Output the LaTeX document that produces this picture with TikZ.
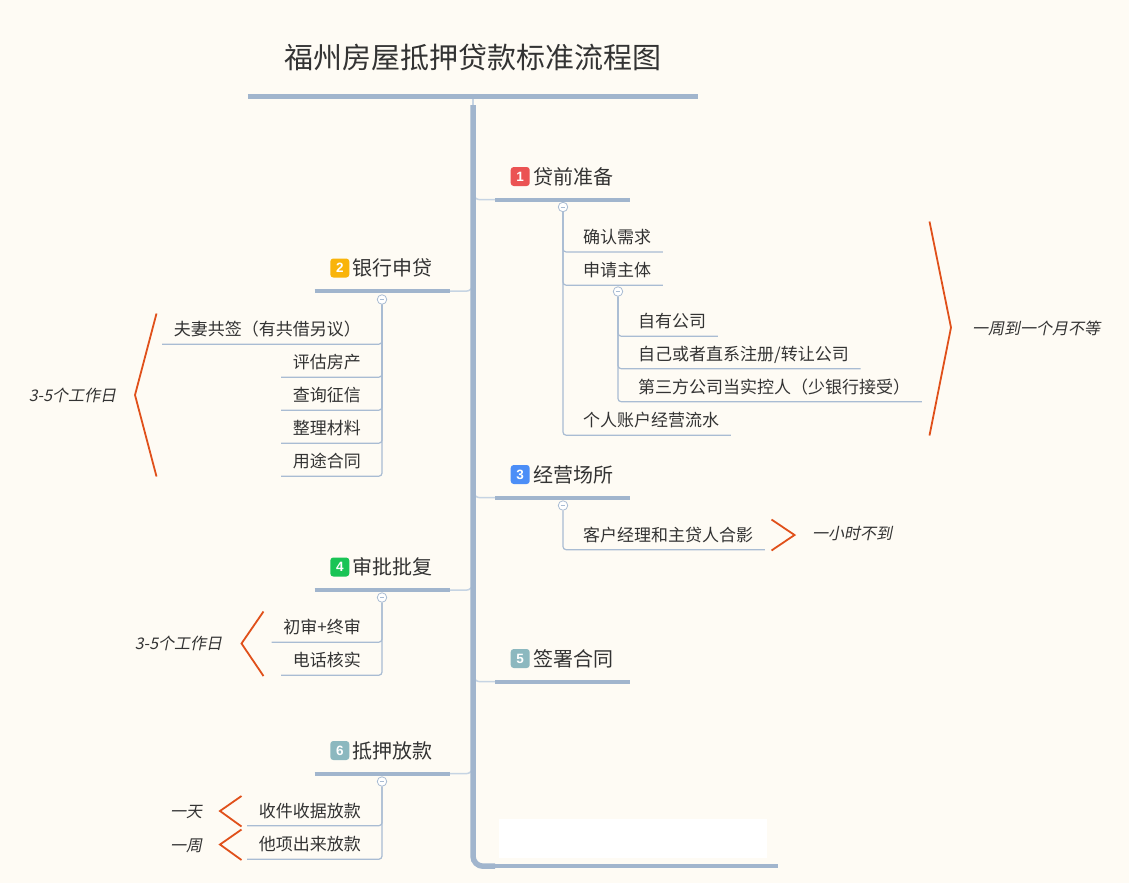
\documentclass[tikz,border=0pt]{standalone}
\usepackage{fontspec}
\setmainfont{Noto Sans CJK SC}
\newfontfamily\slantfont{Noto Sans CJK SC}[FakeSlant=0.2]
\newfontfamily\badgefont{Liberation Sans}
\usepackage{tikz}
\usetikzlibrary{positioning}
\definecolor{paper}{HTML}{FEFBF4}
\definecolor{ink}{HTML}{333333}
\definecolor{branch}{HTML}{A1B5CD}
\definecolor{twig}{HTML}{A9BCD3}
\definecolor{joint}{HTML}{C6D4E3}
\definecolor{summ}{HTML}{E0501A}
\definecolor{tagred}{HTML}{EB5353}
\definecolor{tagyellow}{HTML}{F9B40A}
\definecolor{tagblue}{HTML}{4C8EF7}
\definecolor{taggreen}{HTML}{19C455}
\definecolor{taggrey}{HTML}{8CB8BF}
\tikzset{
    heading/.style={text=ink, font=\fontsize{29}{32}\selectfont, text height=29pt, text depth=7pt, inner ysep=21pt, minimum width=450pt},
    topic/.style={text=ink, font=\fontsize{20}{24}\selectfont, text height=20.2pt, text depth=5pt, inner ysep=10.4pt, inner xsep=17pt},
    item/.style={text=ink, font=\fontsize{17}{20}\selectfont, text height=16.9pt, text depth=4pt, inner ysep=4pt, inner xsep=11.5pt},
    note/.style={text=ink, font=\slantfont\fontsize{16}{19}\selectfont, text height=15.2pt, text depth=3pt, inner sep=0pt},
    badge/.style={rounded corners=3pt, minimum size=19pt, inner sep=0pt, text=white, font=\badgefont\bfseries\fontsize{13.5}{13.5}\selectfont}, % numbered tags
    toggle/.style={circle, draw=twig, fill=white, line width=0.8pt, minimum size=9.5pt, inner sep=0pt,
        path picture={\draw[twig, line width=0.8pt] ([xshift=-2.4pt]path picture bounding box.center) -- ([xshift=2.4pt]path picture bounding box.center);}},
    uline/.style={draw=branch, line width=4pt},
    link/.style={draw=joint, line width=1.5pt, rounded corners=7pt}, % trunk to topic
    sub/.style={draw=twig, line width=1.2pt, rounded corners=3pt},
    trunk/.style={draw=branch, line width=5.5pt, rounded corners=10pt},
    sumline/.style={draw=summ, line width=1.8pt, line join=miter} % summary brackets
}

\begin{document}
\begin{tikzpicture}[x=1pt, y=-1pt]
    \fill[paper] (0,0) rectangle (1129,883);
    \useasboundingbox (0,0) rectangle (1129,883);

    \node[heading] (root) at (473,57.5) {福州房屋抵押贷款标准流程图};
    \coordinate (top) at (473,105);

    % topics
    \node[topic, anchor=west] (t1) at (495,176.5) {\hspace*{21pt}贷前准备};
    \node[topic, anchor=east] (t2) at (450,268) {\hspace*{21pt}银行申贷};
    \node[topic, anchor=west] (t3) at (495,474.5) {\hspace*{21pt}经营场所};
    \node[topic, anchor=east] (t4) at (450,567) {\hspace*{21pt}审批批复};
    \node[topic, anchor=west] (t5) at (495,658.5) {\hspace*{21pt}签署合同};
    \node[topic, anchor=east] (t6) at (450,750.5) {\hspace*{21pt}抵押放款};
    \fill[white] (499,819) rectangle (767,857.5);
    \node[topic, anchor=west, minimum width=283pt] (t7) at (495,843) {};

    \node[badge, fill=tagred, right=15.5pt of t1.west] (n1) {1};
    \node[badge, fill=tagyellow, right=15.5pt of t2.west] (n2) {2};
    \node[badge, fill=tagblue, right=15.5pt of t3.west] (n3) {3};
    \node[badge, fill=taggreen, right=15.5pt of t4.west] (n4) {4};
    \node[badge, fill=taggrey, right=15.5pt of t5.west] (n5) {5};
    \node[badge, fill=taggrey, right=15.5pt of t6.west] (n6) {6};

    % items
    \node[toggle] (m1) at (563,207) {};
    \node[item, anchor=west] (a1) at (571.5,237.3) {确认需求};
    \node[item, anchor=west] (a2) at (571.5,270.5) {申请主体};
    \node[toggle] (m12) at (618,291.5) {};
    \node[item, anchor=west] (a21) at (626.5,321.5) {自有公司};
    \node[item, anchor=west] (a22) at (626.5,354) {自己或者直系注册/转让公司};
    \node[item, anchor=west] (a23) at (626.5,387) {第三方公司当实控人（少银行接受）};
    \node[item, anchor=west] (a3) at (571.5,420.5) {个人账户经营流水};

    \node[toggle] (m2) at (382,299.5) {};
    \node[item, anchor=east] (b1) at (372.5,329.5) {夫妻共签（有共借另议）};
    \node[item, anchor=east] (b2) at (372.5,362.5) {评估房产};
    \node[item, anchor=east] (b3) at (372.5,395.5) {查询征信};
    \node[item, anchor=east] (b4) at (372.5,428.5) {整理材料};
    \node[item, anchor=east] (b5) at (372.5,461.5) {用途合同};

    \node[toggle] (m3) at (563,505.5) {};
    \node[item, anchor=west] (c1) at (571.5,535) {客户经理和主贷人合影};

    \node[toggle] (m4) at (382,597.5) {};
    \node[item, anchor=east] (d1) at (372.5,627.5) {初审+终审};
    \node[item, anchor=east] (d2) at (372.5,660.5) {电话核实};

    \node[toggle] (m6) at (382,781.5) {};
    \node[item, anchor=east] (e1) at (372.5,811) {收件收据放款};
    \node[item, anchor=east] (e2) at (372.5,844.5) {他项出来放款};

    % notes
    \node[note] (s1) at (1036,328) {一周到一个月不等};
    \node[note] (s2) at (852,533) {一小时不到};
    \node[note] (s3) at (72.5,395.5) {3-5个工作日};
    \node[note] (s4) at (178.5,643.5) {3-5个工作日};
    \node[note] (s5) at (186,811.5) {一天};
    \node[note] (s6) at (186,845) {一周};

    \draw[link] (root.south) -- (top);
    \draw[link] (top) |- (t1.south west);
    \draw[link] (top) |- (t2.south east);
    \draw[link] (top) |- (t3.south west);
    \draw[link] (top) |- (t4.south east);
    \draw[link] (top) |- (t5.south west);
    \draw[link] (top) |- (t6.south east);

    \draw[uline, line width=5pt] (root.south west) -- (root.south east);
    \draw[uline] (t1.south west) -- (t1.south east);
    \draw[uline] (t2.south west) -- (t2.south east);
    \draw[uline] (t3.south west) -- (t3.south east);
    \draw[uline] (t4.south west) -- (t4.south east);
    \draw[uline] (t5.south west) -- (t5.south east);
    \draw[uline] (t6.south west) -- (t6.south east);
    \draw[uline] (t7.south west) -- (t7.south east);
    \draw[trunk] (top) |- (t7.south west);

    \draw[sub] (m1.south) |- (a1.south east);
    \draw[sub] (m1.south) |- (a2.south east);
    \draw[sub] (m1.south) |- (a3.south east);
    \draw[sub] (m12.south) |- (a21.south east);
    \draw[sub] (m12.south) |- (a22.south east);
    \draw[sub] (m12.south) |- (a23.south east);
    \draw[sub] (m2.south) |- (b1.south west);
    \draw[sub] (m2.south) |- (b2.south west);
    \draw[sub] (m2.south) |- (b3.south west);
    \draw[sub] (m2.south) |- (b4.south west);
    \draw[sub] (m2.south) |- (b5.south west);
    \draw[sub] (m3.south) |- (c1.south east);
    \draw[sub] (m4.south) |- (d1.south west);
    \draw[sub] (m4.south) |- (d2.south west);
    \draw[sub] (m6.south) |- (e1.south west);
    \draw[sub] (m6.south) |- (e2.south west);

    \draw[sumline] (929.5,221.5) -- (951,327.5) -- (929.5,435.5);
    \draw[sumline] (771.5,519.5) -- (794.5,535) -- (771.5,550.5);
    \draw[sumline] (156.5,313.5) -- (135,395) -- (156.5,476.5);
    \draw[sumline] (263.5,611.5) -- (241.5,643.5) -- (263.5,676);
    \draw[sumline] (241.5,796) -- (220,811) -- (241.5,826.5);
    \draw[sumline] (241.5,829.5) -- (220,844.5) -- (241.5,860);
\end{tikzpicture}
\end{document}
